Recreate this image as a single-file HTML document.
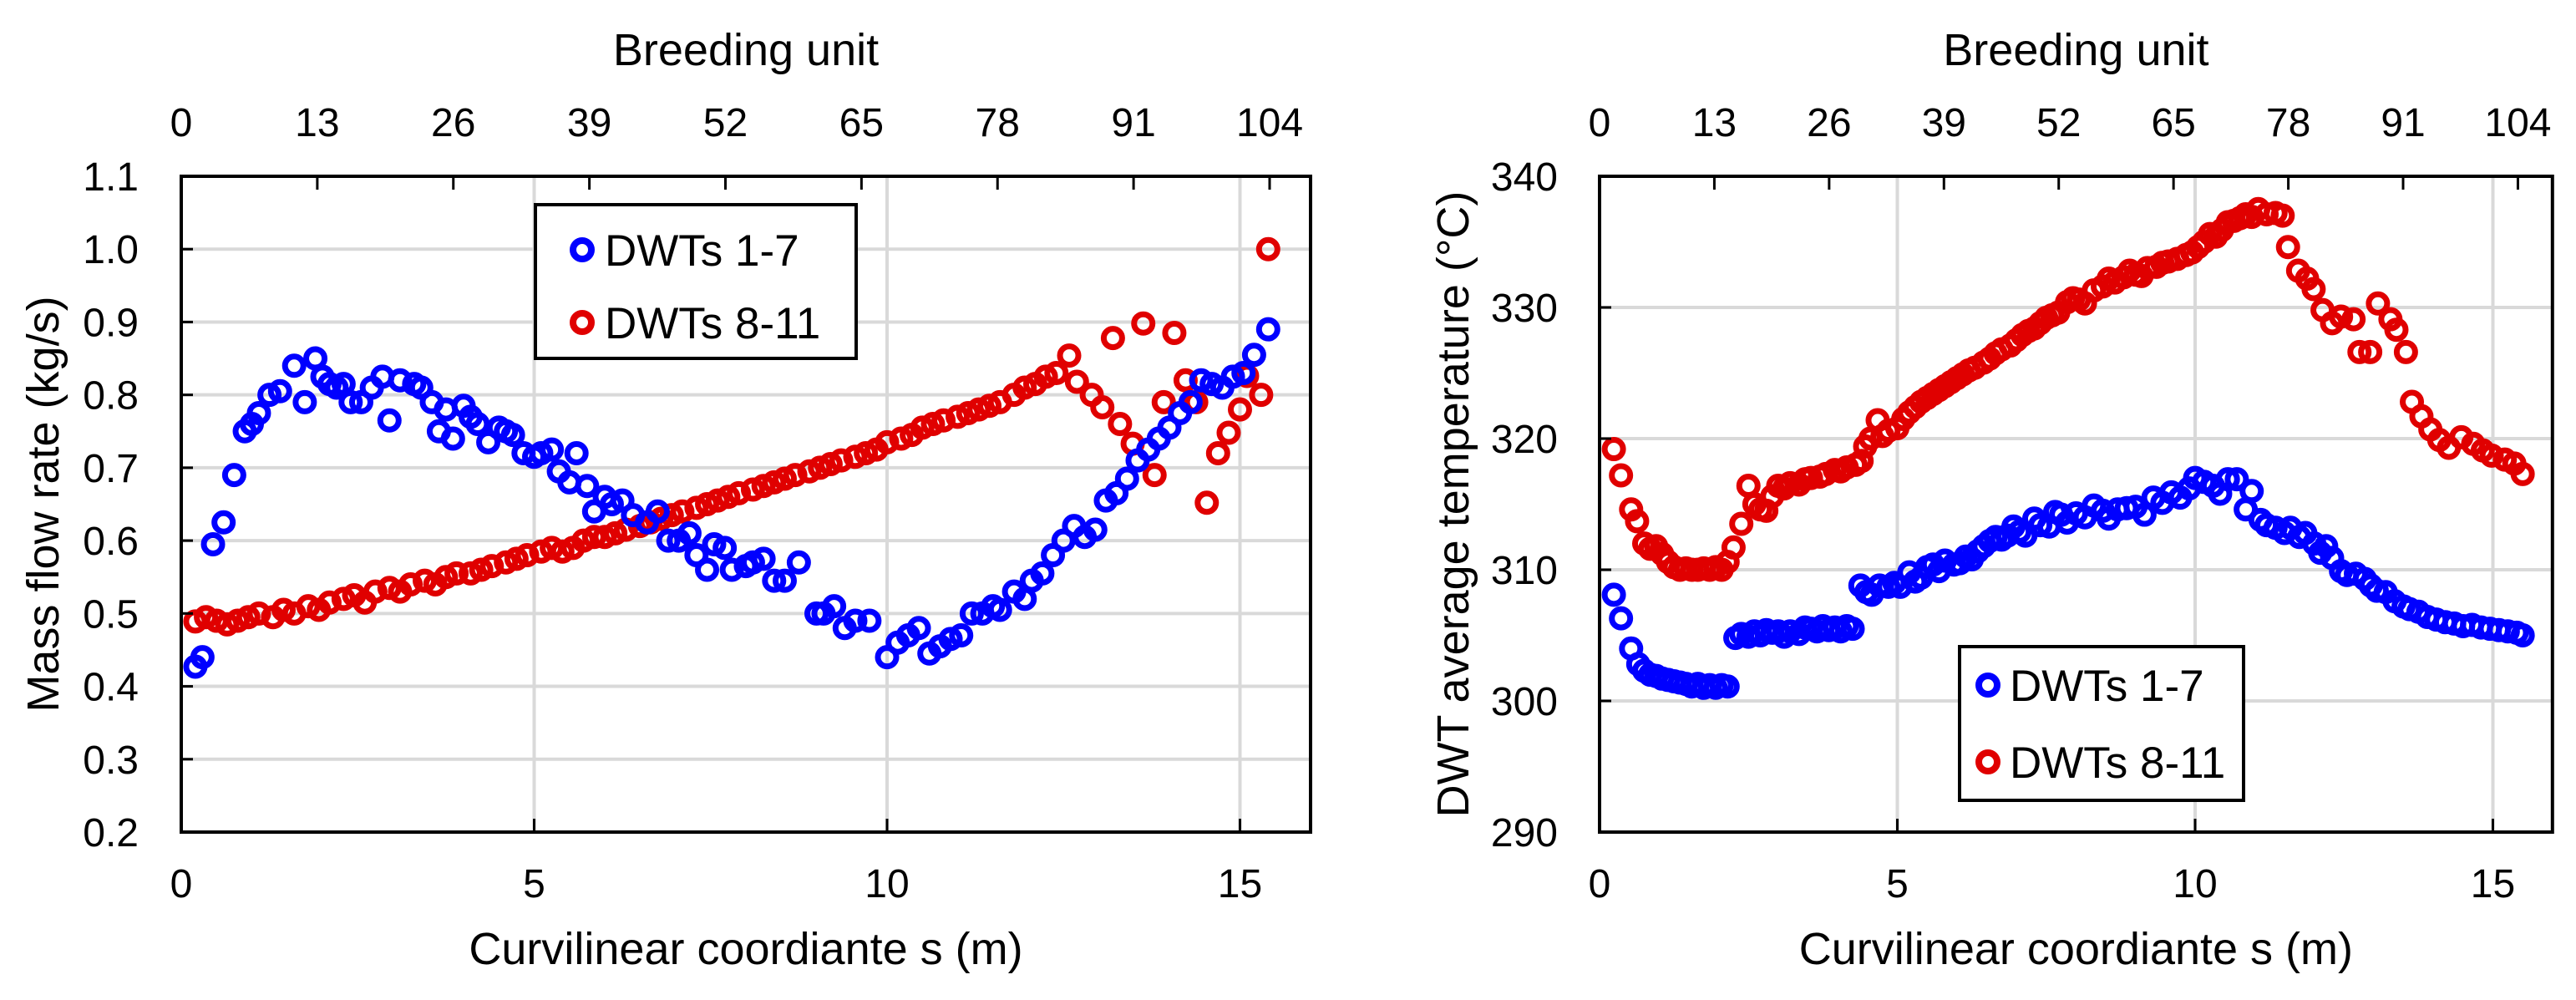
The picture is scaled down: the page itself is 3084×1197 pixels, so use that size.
<!DOCTYPE html>
<html><head><meta charset="utf-8">
<style>
html,body{margin:0;padding:0;background:#fff;}
svg{display:block;font-family:"Liberation Sans",Arial,sans-serif;}
</style></head>
<body>
<svg id="fig" width="3084" height="1197" viewBox="0 0 3084 1197" xmlns="http://www.w3.org/2000/svg">
  <g id="left"></g>
  <g id="right"></g>
</svg>
<script>
// ---- data ----
const xTicks = [0, 5, 10, 15];
const topTicks = [0, 13, 26, 39, 52, 65, 78, 91, 104];
const leftYTicks = [0.2, 0.3, 0.4, 0.5, 0.6, 0.7, 0.8, 0.9, 1.0, 1.1];
const leftYLabels = ["0.2","0.3","0.4","0.5","0.6","0.7","0.8","0.9","1.0","1.1"];
const rightYTicks = [290, 300, 310, 320, 330, 340];
const rightYLabels = ["290","300","310","320","330","340"];
const seriesNames = ["DWTs 1-7", "DWTs 8-11"];

const flowBlueS = [0.2,0.3,0.45,0.6,0.75,0.9,1.0,1.1,1.25,1.4,1.6,1.75,1.9,2.0,2.1,2.2,2.3,2.4,2.55,2.7,2.85,2.95,3.1,3.3,3.4,3.55,3.65,3.75,3.85,4.0,4.1,4.2,4.35,4.5,4.6,4.7,4.85,5.0,5.1,5.25,5.35,5.5,5.6,5.75,5.85,6.0,6.1,6.25,6.4,6.6,6.75,6.9,7.05,7.2,7.3,7.45,7.55,7.7,7.8,8.0,8.1,8.25,8.4,8.55,8.75,9.0,9.1,9.25,9.4,9.55,9.75,10.0,10.15,10.3,10.45,10.6,10.75,10.9,11.05,11.2,11.35,11.5,11.6,11.8,11.95,12.05,12.2,12.35,12.5,12.65,12.8,12.95,13.1,13.25,13.4,13.55,13.7,13.85,14.0,14.15,14.3,14.45,14.6,14.75,14.9,15.05,15.2,15.4];
const flowBlueV = [0.427,0.44,0.595,0.625,0.69,0.75,0.76,0.775,0.80,0.805,0.84,0.79,0.85,0.825,0.815,0.81,0.815,0.79,0.79,0.81,0.825,0.765,0.82,0.815,0.81,0.79,0.75,0.78,0.74,0.785,0.77,0.76,0.735,0.755,0.75,0.745,0.72,0.715,0.72,0.725,0.695,0.68,0.72,0.675,0.64,0.66,0.65,0.655,0.635,0.625,0.64,0.6,0.6,0.61,0.58,0.56,0.595,0.59,0.56,0.565,0.57,0.575,0.545,0.545,0.57,0.5,0.5,0.51,0.48,0.49,0.49,0.44,0.46,0.47,0.48,0.445,0.455,0.465,0.47,0.5,0.5,0.51,0.505,0.53,0.52,0.545,0.555,0.58,0.6,0.62,0.605,0.615,0.655,0.665,0.685,0.71,0.725,0.74,0.755,0.775,0.79,0.82,0.815,0.81,0.825,0.83,0.855,0.89];
const flowRedS = [0.2,0.35,0.5,0.65,0.8,0.95,1.1,1.3,1.45,1.6,1.8,1.95,2.1,2.3,2.45,2.6,2.75,2.95,3.1,3.25,3.45,3.6,3.75,3.9,4.1,4.25,4.4,4.6,4.75,4.9,5.1,5.25,5.4,5.55,5.7,5.85,6.0,6.15,6.3,6.5,6.65,6.8,6.95,7.1,7.3,7.45,7.6,7.75,7.9,8.1,8.25,8.4,8.55,8.7,8.9,9.05,9.2,9.35,9.55,9.7,9.85,10.0,10.2,10.35,10.5,10.65,10.8,11.0,11.15,11.3,11.45,11.6,11.8,11.95,12.1,12.25,12.4,12.58,12.69,12.9,13.05,13.2,13.3,13.48,13.63,13.79,13.92,14.07,14.23,14.38,14.53,14.69,14.84,15.0,15.1,15.3,15.4];
const flowRedV = [0.489,0.495,0.49,0.485,0.49,0.495,0.50,0.495,0.505,0.50,0.51,0.505,0.515,0.52,0.525,0.515,0.53,0.535,0.53,0.54,0.545,0.54,0.55,0.555,0.555,0.56,0.565,0.57,0.575,0.58,0.585,0.59,0.585,0.59,0.6,0.605,0.605,0.61,0.615,0.62,0.625,0.63,0.635,0.64,0.645,0.65,0.655,0.66,0.665,0.67,0.675,0.68,0.685,0.69,0.695,0.70,0.705,0.71,0.715,0.72,0.725,0.735,0.74,0.745,0.755,0.76,0.765,0.77,0.775,0.78,0.785,0.79,0.80,0.81,0.815,0.825,0.83,0.854,0.818,0.80,0.783,0.878,0.76,0.733,0.898,0.69,0.79,0.885,0.82,0.79,0.652,0.72,0.748,0.78,0.826,0.80,1.0];

const tempRedS = [0.24,0.36,0.53,0.63,0.75,0.85,0.95,1.05,1.15,1.25,1.35,1.45,1.55,1.65,1.75,1.85,1.95,2.05,2.15,2.25,2.38,2.5,2.6,2.7,2.8,2.9,3.0,3.1,3.2,3.35,3.45,3.55,3.7,3.8,3.95,4.05,4.15,4.3,4.4,4.46,4.55,4.67,4.75,4.85,5.0,5.1,5.2,5.3,5.4,5.5,5.6,5.7,5.8,5.9,6.0,6.1,6.2,6.3,6.45,6.55,6.65,6.75,6.9,7.0,7.1,7.2,7.3,7.4,7.5,7.6,7.7,7.85,7.95,8.05,8.15,8.3,8.45,8.55,8.65,8.8,8.9,9.0,9.1,9.2,9.35,9.45,9.55,9.7,9.85,9.95,10.05,10.15,10.25,10.35,10.45,10.55,10.65,10.75,10.85,10.95,11.06,11.2,11.35,11.47,11.56,11.73,11.88,11.99,12.14,12.3,12.45,12.66,12.76,12.94,13.07,13.28,13.38,13.54,13.64,13.8,13.95,14.1,14.26,14.47,14.67,14.83,14.98,15.2,15.36,15.5];
const tempRedV = [319.2,317.2,314.6,313.7,312,311.6,311.8,311.2,310.6,310.2,310,310.1,310,310,310.1,310,310.2,310,310.6,311.7,313.5,316.4,315,314.6,314.5,315.6,316.4,316.2,316.6,316.5,316.9,317,317.1,317.3,317.6,317.5,317.8,318,318.3,319.4,320,321.4,320.2,320.6,320.8,321.5,322,322.4,322.8,323.1,323.4,323.7,324,324.3,324.6,324.9,325.2,325.4,325.8,326.1,326.5,326.8,327.1,327.5,327.9,328.2,328.4,328.8,329.2,329.4,329.6,330.4,330.7,330.6,330.3,331.3,331.6,332.2,331.9,332.3,332.8,332.5,332.4,333,333.1,333.4,333.5,333.7,334,334.2,334.6,335,335.6,335.4,335.9,336.5,336.6,336.8,337.1,336.9,337.5,337.1,337.2,337,334.6,332.8,332.2,331.4,329.8,328.8,329.3,329.1,326.6,326.6,330.3,329.1,328.3,326.6,322.8,321.7,320.7,319.9,319.3,320.1,319.6,319.1,318.7,318.4,318.1,317.3];
const tempBlueS = [0.24,0.36,0.53,0.65,0.75,0.85,0.95,1.05,1.15,1.25,1.35,1.45,1.55,1.65,1.75,1.85,1.95,2.05,2.15,2.28,2.38,2.5,2.6,2.7,2.8,2.9,3.0,3.1,3.2,3.35,3.45,3.55,3.65,3.75,3.85,3.95,4.05,4.15,4.25,4.38,4.48,4.57,4.7,4.85,4.95,5.05,5.2,5.3,5.4,5.5,5.6,5.7,5.8,5.95,6.05,6.15,6.25,6.35,6.45,6.55,6.65,6.75,6.85,6.95,7.05,7.15,7.3,7.4,7.55,7.65,7.75,7.85,8.0,8.15,8.3,8.45,8.55,8.7,8.85,9.0,9.15,9.3,9.45,9.6,9.75,9.9,10.0,10.15,10.3,10.42,10.55,10.7,10.85,10.95,11.1,11.2,11.35,11.5,11.6,11.75,11.85,12.0,12.1,12.2,12.3,12.45,12.55,12.7,12.85,12.95,13.05,13.2,13.35,13.5,13.6,13.75,13.9,14.05,14.2,14.35,14.5,14.65,14.8,14.95,15.1,15.25,15.4,15.5];
const tempBlueV = [308.1,306.3,304,302.8,302.3,302,301.9,301.7,301.6,301.5,301.4,301.3,301.1,301.3,301,301.2,301,301.2,301.1,304.8,305.1,304.9,305.3,305,305.4,305.2,305.3,304.9,305.3,305.1,305.6,305.5,305.3,305.7,305.4,305.6,305.3,305.7,305.5,308.8,308.3,308.1,308.8,308.7,309,308.7,309.8,309.1,309.4,310.2,310.4,309.9,310.7,310.4,310.5,311,310.8,311.4,311.8,312.2,312.5,312.3,312.6,313.3,312.9,312.6,313.9,313.4,313.3,314.4,314.2,313.6,314.3,314,314.9,314.5,313.9,314.6,314.7,314.8,314.2,315.5,315.1,315.9,315.5,316.2,317,316.7,316.4,315.8,316.9,316.9,314.6,316,313.8,313.4,313.2,312.8,313.2,312.5,312.8,312,311.3,311.8,310.9,309.9,309.6,309.7,309.3,308.8,308.4,308.3,307.6,307.2,307,306.8,306.4,306.2,306.0,305.9,305.7,305.8,305.6,305.5,305.4,305.3,305.2,305];

// ---- drawing ----
const NS = "http://www.w3.org/2000/svg";
const BLUE = "#0000ff", RED = "#e00000";
function mk(tag, attrs, parent){const e=document.createElementNS(NS,tag);for(const k in attrs)e.setAttribute(k,attrs[k]);parent.appendChild(e);return e;}
const unitsPerMeter = 104/15.42;

function chart(g, cfg){
  const {x0, pxm, top, bot, ymin, ymax, yTicks, yLabels, yLabelX, titleX, yTitle, legend} = cfg;
  const xr = x0 + 16*pxm;
  const X = s => x0 + s*pxm;
  const Y = v => bot - (v-ymin)/(ymax-ymin)*(bot-top);
  yTicks.forEach(v=>{ if(v>ymin && v<ymax){
    const l=mk("line",{x1:x0,x2:xr,y1:Y(v),y2:Y(v),stroke:"#d9d9d9","stroke-width":4},g);
    
    
  }});
  xTicks.forEach(s=>{ if(s>0){
    const l=mk("line",{x1:X(s),x2:X(s),y1:top,y2:bot,stroke:"#d9d9d9","stroke-width":4},g);
    
    
  }});
  const drawSeries=(S,V,color,name)=>{
    const sg=mk("g",{},g);
    
    
    S.forEach((s,i)=>{
      const c=mk("circle",{cx:X(s),cy:Y(V[i]),r:11,fill:"none",stroke:color,"stroke-width":7},sg);
      
      
    });
  };
  drawSeries(cfg.redS,cfg.redV,RED,"series-dwts-8-11");
  drawSeries(cfg.blueS,cfg.blueV,BLUE,"series-dwts-1-7");
  const fr=mk("rect",{x:x0,y:top,width:xr-x0,height:bot-top,fill:"none",stroke:"#000","stroke-width":4},g);
  
  
  yTicks.forEach((v,i)=>{
    if(v>ymin && v<ymax){
      const t=mk("line",{x1:x0,x2:x0+14,y1:Y(v),y2:Y(v),stroke:"#000","stroke-width":3},g);
      
      
    }
    const tx=mk("text",{x:yLabelX,y:Y(v)+17,"font-size":48,"text-anchor":"end",fill:"#000"},g);
    tx.textContent=yLabels[i];
    
    
  });
  xTicks.forEach(s=>{
    if(s>0){
      const t=mk("line",{x1:X(s),x2:X(s),y1:bot,y2:bot-16,stroke:"#000","stroke-width":3},g);
      
      
    }
    const tx=mk("text",{x:X(s),y:1074,"font-size":48,"text-anchor":"middle",fill:"#000"},g);
    tx.textContent=String(s);
    
    
  });
  topTicks.forEach(u=>{
    const px = X(u/unitsPerMeter);
    if(u>0){
      const t=mk("line",{x1:px,x2:px,y1:top,y2:top+16,stroke:"#000","stroke-width":3},g);
      
      
    }
    const tx=mk("text",{x:px,y:163,"font-size":48,"text-anchor":"middle",fill:"#000"},g);
    tx.textContent=String(u);
    
    
  });
  const cx=(x0+xr)/2;
  const tt=mk("text",{x:cx,y:78,"font-size":54,"text-anchor":"middle",fill:"#000","xml:space":"preserve"},g);
  tt.textContent="Breeding  unit";
  
  
  const xt=mk("text",{x:cx,y:1154,"font-size":54,"text-anchor":"middle",fill:"#000","xml:space":"preserve"},g);
  xt.textContent="Curvilinear  coordiante  s (m)";
  
  
  const cy=(top+bot)/2;
  const yt=mk("text",{x:titleX,y:cy,"font-size":54,"text-anchor":"middle",fill:"#000","xml:space":"preserve",transform:`rotate(-90 ${titleX} ${cy})`},g);
  yt.textContent=yTitle;
  
  
  const lg=mk("g",{},g);
  
  
  const lb=mk("rect",{x:legend.x,y:legend.y,width:legend.w,height:legend.h,fill:"#fff",stroke:"#000","stroke-width":4},lg);
  
  
  [[BLUE,legend.y1,seriesNames[0]],[RED,legend.y2,seriesNames[1]]].forEach(([col,yy,label])=>{
    const m=mk("circle",{cx:legend.mx,cy:yy,r:11,fill:"none",stroke:col,"stroke-width":8},lg);
    
    
    const t=mk("text",{x:legend.tx,y:yy+19,"font-size":53,fill:"#000"},lg);
    t.textContent=label;
    
    
  });
}

chart(document.getElementById("left"),{
  x0:217, pxm:84.5, top:211, bot:996, ymin:0.2, ymax:1.1,
  yTicks:leftYTicks, yLabels:leftYLabels, yLabelX:166, titleX:70,
  yTitle:"Mass  flow  rate  (kg/s)",
  blueS:flowBlueS, blueV:flowBlueV, redS:flowRedS, redV:flowRedV,
  legend:{x:641,y:245,w:384,h:184,mx:697,y1:299,y2:386,tx:724}
});
chart(document.getElementById("right"),{
  x0:1915, pxm:71.3, top:211, bot:996, ymin:290, ymax:340,
  yTicks:rightYTicks, yLabels:rightYLabels, yLabelX:1865, titleX:1758,
  yTitle:"DWT average  temperature  (°C)",
  blueS:tempBlueS, blueV:tempBlueV, redS:tempRedS, redV:tempRedV,
  legend:{x:2346,y:774,w:340,h:184,mx:2380,y1:820,y2:912,tx:2406}
});
</script>
</body></html>
